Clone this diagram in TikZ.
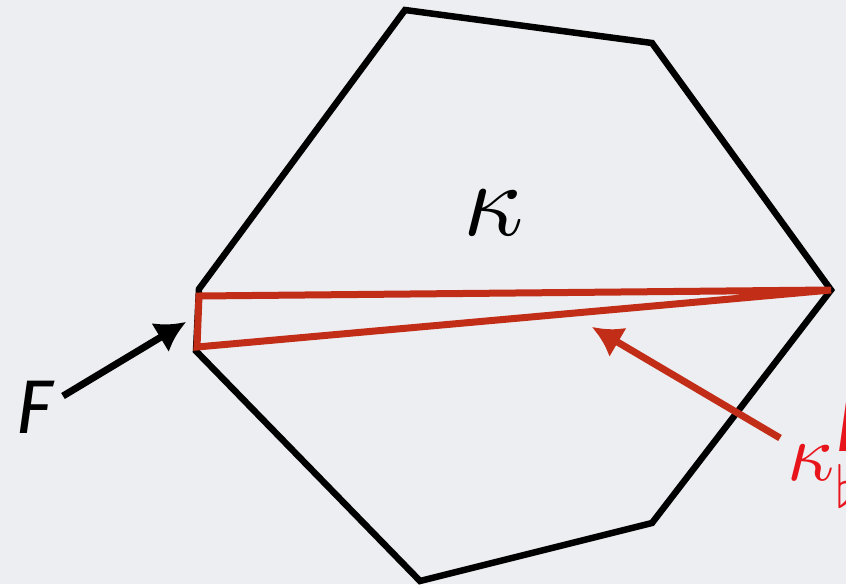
\documentclass[tikz,border=0pt]{standalone}
\usepackage{fontspec}
\usepackage{graphicx}
\newfontfamily\labelfont{Fira Sans}
\usetikzlibrary{arrows.meta}
\definecolor{bg}{HTML}{EDEEF1}
\definecolor{edgered}{HTML}{C22D17}
\definecolor{labelred}{HTML}{E8141B}
\tikzset{
  cell/.style={line width=6.5pt, black, line join=miter},
  sub/.style={line width=7pt, edgered, line join=miter},
  pointer/.style={line width=7pt, -{Latex[length=30pt,width=34pt]}},
}
\begin{document}
\begin{tikzpicture}[x=1pt,y=-1pt]
\useasboundingbox[fill=bg] (0,0) rectangle (846,584);
% vertices
\coordinate (v1) at (405,10);
\coordinate (v2) at (652,43);
\coordinate (v3) at (831,290);
\coordinate (v4) at (652,523);
\coordinate (v5) at (420,581);
\coordinate (v6) at (196,351);
\coordinate (v7) at (199,289);
\draw[cell] (v1) -- (v2) -- (v3) -- (v4) -- (v5) -- (v6) -- (v7) -- cycle;
% sub-triangle
\coordinate (a) at (199,296);
\coordinate (b) at (831,290);
\coordinate (c) at (197,347);
\draw[sub] (a) -- (b) -- (c) -- cycle;
% labels
\node (kappa) at (494,213) {\scalebox{10.5}{$\kappa$}};
\node[anchor=center] (F) at (34,407) {\fontsize{76}{76}\selectfont\labelfont\itshape F};
\node[labelred, anchor=west, inner sep=0pt] (kb) at (787,451) {\scalebox{8.2}{$\kappa_\flat^{\mbox{\labelfont\itshape F}}$}};
% arrows
\coordinate (Fs) at (63,396);
\coordinate (Ft) at (186,322);
\draw[pointer, black] (Fs) -- (Ft);
\coordinate (Rs) at (780,438);
\coordinate (Rt) at (592,327);
\draw[pointer, edgered] (Rs) -- (Rt);
\end{tikzpicture}
\end{document}
